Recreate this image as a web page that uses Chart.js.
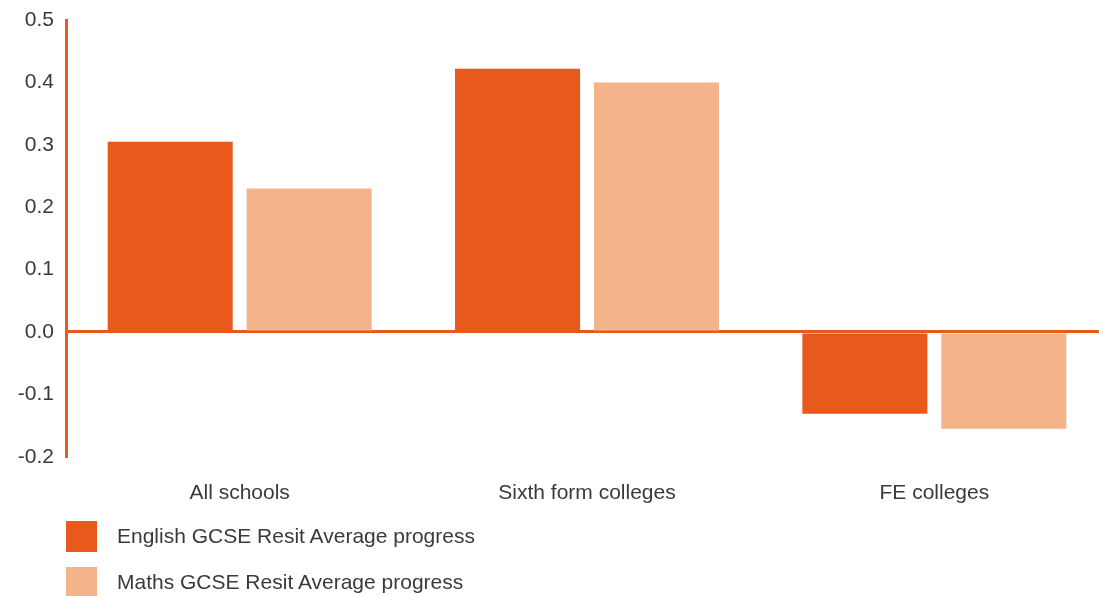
<!DOCTYPE html>
<html>
<head>
<meta charset="utf-8">
<script src="https://cdn.jsdelivr.net/npm/chart.js@4"></script>
<style>
  html, body { margin: 0; padding: 0; background: #fff; overflow: hidden; width: 1099px; height: 596px; }
  #c { position: absolute; left: 0; top: 0; }
  #legend { position: absolute; left: 66px; top: 521px; font-family: 'Liberation Sans', Arial, sans-serif; font-size: 21px; color: #3a3a3a; }
  .item { position: relative; height: 31px; margin-bottom: 15px; }
  .box { position: absolute; left: 0; top: 0; width: 31px; height: 31px; }
  .lab { position: absolute; left: 51px; top: 3px; white-space: nowrap; line-height: 24px; }
</style>
</head>
<body>
<canvas id="c" width="1108" height="534" style="width:1108px;height:534px"></canvas>
<div id="legend"></div>
<script>
const categories = ['All schools', 'Sixth form colleges', 'FE colleges'];
const englishValues = [0.305, 0.422, -0.131];
const mathsValues = [0.23, 0.40, -0.155];
const seriesNames = ['English GCSE Resit Average progress', 'Maths GCSE Resit Average progress'];
const yTicks = [-0.2, -0.1, 0.0, 0.1, 0.2, 0.3, 0.4, 0.5];

const ORANGE = '#E8591C';
const PEACH = '#F3B48B';
const TEXT = '#3a3a3a';
const FONT = "'Liberation Sans', Arial, sans-serif";

const chart = new Chart(document.getElementById('c'), {
  type: 'bar',
  data: {
    labels: categories,
    datasets: [
      { label: seriesNames[0], data: englishValues, backgroundColor: ORANGE, borderWidth: 0 },
      { label: seriesNames[1], data: mathsValues, backgroundColor: PEACH, borderWidth: 0 }
    ]
  },
  options: {
    responsive: false,
    maintainAspectRatio: false,
    devicePixelRatio: 1,
    animation: false,
    layout: { padding: { top: 20, bottom: 4, left: 0, right: 0 } },
    plugins: { legend: { display: false }, tooltip: { enabled: false } },
    datasets: { bar: { categoryPercentage: 0.8, barPercentage: 0.9 } },
    scales: {
      x: {
        grid: { display: false, drawTicks: false },
        border: { display: false },
        ticks: { color: TEXT, font: { family: FONT, size: 21 }, padding: 24 }
      },
      y: {
        min: -0.2,
        max: 0.5,
        afterFit: (s) => { s.width = 66; s.paddingTop = 0; s.paddingBottom = 0; },
        afterBuildTicks: (s) => { s.ticks = yTicks.map(v => ({ value: v })); },
        grid: {
          drawTicks: false,
          color: (ctx) => (ctx.tick && Math.abs(ctx.tick.value) < 1e-9) ? ORANGE : 'rgba(0,0,0,0)',
          lineWidth: 3
        },
        border: { display: true, color: ORANGE, width: 3 },
        ticks: {
          color: TEXT,
          font: { family: FONT, size: 21 },
          padding: 12,
          callback: (v) => Number(v).toFixed(1)
        }
      }
    }
  }
});

// fit the plot area to the reference frame (top 20px, bottom 457px)
for (let i = 0; i < 5; i++) {
  const ca = chart.chartArea;
  const dt = 20 - ca.top;
  const db = ca.bottom - 457;
  if (Math.abs(dt) < 0.5 && Math.abs(db) < 0.5) break;
  chart.options.layout.padding.top = Math.max(0, chart.options.layout.padding.top + dt);
  chart.options.layout.padding.bottom = Math.max(0, chart.options.layout.padding.bottom + db);
  chart.update();
}

const legend = document.getElementById('legend');
chart.data.datasets.forEach(ds => {
  const item = document.createElement('div');
  item.className = 'item';
  const box = document.createElement('div');
  box.className = 'box';
  box.style.background = ds.backgroundColor;
  const lab = document.createElement('div');
  lab.className = 'lab';
  lab.textContent = ds.label;
  item.appendChild(box);
  item.appendChild(lab);
  legend.appendChild(item);
});
</script>
</body>
</html>
